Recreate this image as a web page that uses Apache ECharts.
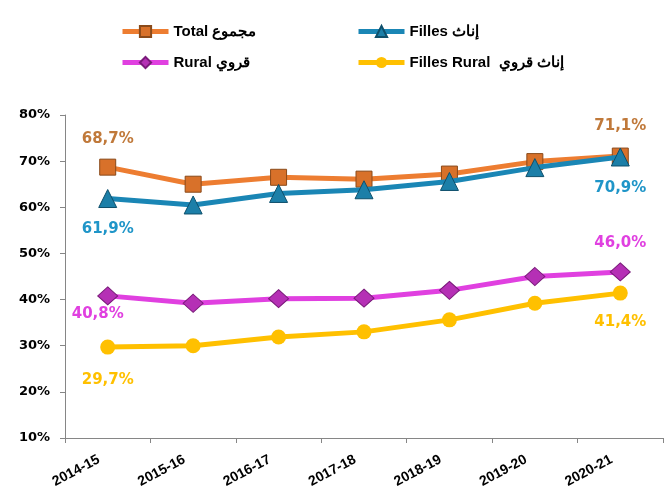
<!DOCTYPE html>
<html><head><meta charset="utf-8">
<script src="https://cdn.jsdelivr.net/npm/echarts@6/dist/echarts.min.js"></script>
<style>html,body{margin:0;padding:0;background:#fff}#c{width:668px;height:496px}</style>
</head><body><div id="c"></div>
<script>
const categories = ['2014-15','2015-16','2016-17','2017-18','2018-19','2019-20','2020-21'];
const total = [68.7, 65.0, 66.5, 66.1, 67.2, 69.9, 71.1];
const filles = [61.9, 60.5, 63.0, 63.8, 65.6, 68.6, 70.9];
const rural = [40.8, 39.2, 40.2, 40.3, 42.0, 45.0, 46.0];
const fillesRural = [29.7, 30.0, 31.9, 33.0, 35.6, 39.2, 41.4];
const yTicks = [10, 20, 30, 40, 50, 60, 70, 80];
const names = ['Total مجموع', 'Filles إناث', 'Rural قروي', 'Filles Rural  إناث قروي'];

const labelFont = {fontFamily:'DejaVu Sans', fontWeight:'bold', fontSize:15};
function fmt(v){ return v.toFixed(1).replace('.', ',') + '%'; }
function withLabels(arr, color, first, last){
  return arr.map((v,i)=>{
    const cfg = i===0 ? first : (i===arr.length-1 ? last : null);
    if(!cfg) return v;
    return {value:v, label:Object.assign({show:true, color:color, formatter:fmt(v)}, labelFont, cfg)};
  });
}
const chart = echarts.init(document.getElementById('c'));
const legendText = {fontFamily:'Liberation Sans', fontWeight:'bold', fontSize:15, color:'#000'};
function leg(name, left, top){
  return {data:[name], left:left, top:top, itemWidth:46, itemHeight:14, itemGap:0, padding:0,
    textStyle:legendText, selectedMode:false, lineStyle:{width:5}};
}
chart.setOption({
  animation:false,
  legend:[leg(names[0],120,24), leg(names[1],356,24), leg(names[2],120,55), leg(names[3],356,55)],
  grid:{left:65, right:5, top:115, bottom:58, containLabel:false},
  xAxis:{type:'category', data:categories, boundaryGap:true,
    axisLine:{lineStyle:{color:'#868686', width:1}},
    axisTick:{show:true, alignWithLabel:false, length:5, lineStyle:{color:'#868686'}},
    axisLabel:{rotate:28, margin:16, padding:[0,10,0,0], color:'#000', fontFamily:'Liberation Sans', fontWeight:'bold', fontSize:14, interval:0}},
  yAxis:{type:'value', min:10, max:80, interval:10,
    axisLine:{show:true, lineStyle:{color:'#868686', width:1}},
    axisTick:{show:true, length:5, lineStyle:{color:'#868686'}},
    splitLine:{show:false},
    axisLabel:{formatter:v=>v+'%', color:'#000', fontFamily:'DejaVu Sans', fontWeight:'bold', fontSize:13, margin:15,
      customValues: yTicks}},
  series:[
    {name:names[0], type:'line', data:withLabels(total,'#C0793A',{position:'top',distance:12},{position:'top',distance:14}),
      symbol:'rect', symbolSize:16, lineStyle:{color:'#ED7D31', width:5},
      itemStyle:{color:'#D8712A', borderColor:'#8A4A1A', borderWidth:1}, z:3},
    {name:names[1], type:'line', data:withLabels(filles,'#1F95C8',{position:'bottom',distance:14},{position:'bottom',distance:14}),
      symbol:'triangle', symbolSize:18, lineStyle:{color:'#1A86B5', width:5},
      itemStyle:{color:'#1C7FA8', borderColor:'#0E4F6B', borderWidth:1}, z:4},
    {name:names[2], type:'line', data:withLabels(rural,'#E040E0',{position:'bottom',distance:1, offset:[-10,0]},{position:'top',distance:12}),
      symbol:'diamond', symbolSize:[20,18], lineStyle:{color:'#E040E0', width:5},
      itemStyle:{color:'#B530B5', borderColor:'#7A1A7A', borderWidth:1}, z:3},
    {name:names[3], type:'line', data:withLabels(fillesRural,'#FFC000',{position:'bottom',distance:18},{position:'bottom',distance:14}),
      symbol:'circle', symbolSize:15, lineStyle:{color:'#FFC000', width:5},
      itemStyle:{color:'#FFC000'}, z:3}
  ]
});
</script></body></html>
